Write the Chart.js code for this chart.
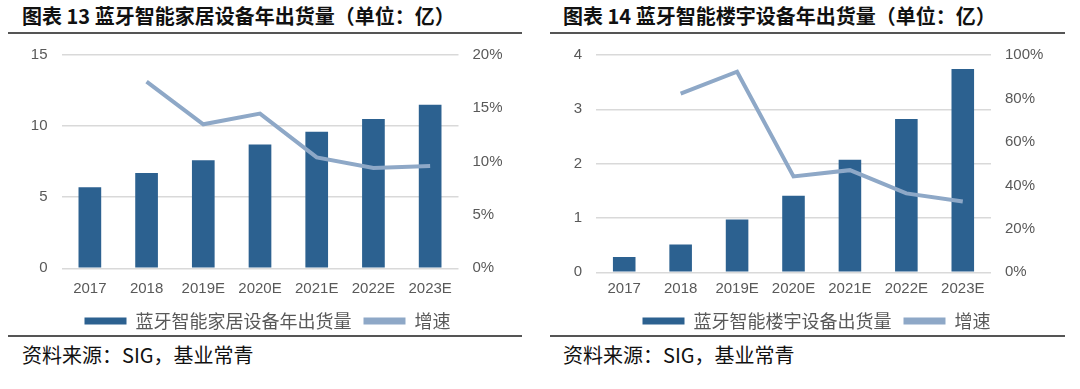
<!DOCTYPE html>
<html><head><meta charset="utf-8">
<script src="https://cdn.jsdelivr.net/npm/chart.js@4.4.0/dist/chart.umd.min.js"></script>
<style>
body{margin:0;width:1080px;height:389px;background:#fff;position:relative;overflow:hidden;font-family:"Noto Sans CJK SC",sans-serif}
.t{position:absolute;font-weight:bold;font-size:20px;line-height:20px;color:#111;white-space:nowrap}
.s{position:absolute;font-size:20px;line-height:20px;color:#111;white-space:nowrap}
.hr{position:absolute;background:#555}
.cw{position:absolute}
</style></head><body>
<div class="t" style="left:22px;top:6px">图表 13 蓝牙智能家居设备年出货量（单位：亿）</div>
<div class="hr" style="left:8px;width:514px;top:32px;height:2px"></div>
<div class="hr" style="left:8px;width:514px;top:335px;height:1.5px"></div>
<div class="s" style="left:22px;top:345px">资料来源：SIG，基业常青</div>
<div class="cw" style="left:0;top:32px;width:535px;height:308px"><canvas id="c1" width="535" height="308"></canvas></div>

<div class="t" style="left:563px;top:6px">图表 14 蓝牙智能楼宇设备年出货量（单位：亿）</div>
<div class="hr" style="left:550px;width:515px;top:32px;height:2px"></div>
<div class="hr" style="left:550px;width:515px;top:335px;height:1.5px"></div>
<div class="s" style="left:563px;top:345px">资料来源：SIG，基业常青</div>
<div class="cw" style="left:553px;top:32px;width:527px;height:308px"><canvas id="c2" width="527" height="308"></canvas></div>

<script>
const categories = ['2017','2018','2019E','2020E','2021E','2022E','2023E'];
const homeShipments = [5.7, 6.7, 7.6, 8.7, 9.6, 10.5, 11.5];
const homeGrowth = [null, 0.175, 0.135, 0.145, 0.104, 0.094, 0.096];
const buildingShipments = [0.28, 0.51, 0.97, 1.41, 2.07, 2.82, 3.74];
const buildingGrowth = [null, 0.822, 0.923, 0.441, 0.470, 0.363, 0.326];
const homeLabel = '蓝牙智能家居设备年出货量';
const buildingLabel = '蓝牙智能楼宇设备出货量';
const growthLabel = '增速';

const BAR = '#2C6190', LINE = '#8EA8C7', TICK = '#595959', GRID = '#D9D9D9';
const tickFont = {family: '"Liberation Sans", Arial, sans-serif', size: 15};

function make(id, barLabel, bars, growth, yMax, yStep, y1Max, y1Step, leftW, rightW, xH, xPad, padTop) {
  new Chart(document.getElementById(id), {
    data: {
      labels: categories,
      datasets: [
        {type: 'bar', label: barLabel, data: bars, backgroundColor: BAR, borderWidth: 0,
         barPercentage: 0.4, categoryPercentage: 1, yAxisID: 'y', order: 2},
        {type: 'line', label: growthLabel, data: growth, borderColor: LINE, backgroundColor: LINE,
         borderWidth: 4, pointRadius: 0, tension: 0, yAxisID: 'y1', order: 1}
      ]
    },
    options: {
      responsive: false, animation: false,
      layout: {padding: {top: padTop, left: 0, right: 0, bottom: 0}},
      plugins: {
        tooltip: {enabled: false},
        legend: {
          position: 'bottom',
          labels: {
            boxWidth: 42, boxHeight: 7, padding: 12, color: TICK,
            font: {family: '"Noto Sans CJK SC", sans-serif', size: 18},
            generateLabels: (chart) => chart.data.datasets.map((d, i) => ({
              text: d.label, fillStyle: d.type === 'bar' ? BAR : LINE, strokeStyle: 'rgba(0,0,0,0)',
              lineWidth: 0, datasetIndex: i, hidden: false, fontColor: TICK
            }))
          }
        }
      },
      scales: {
        x: {
          grid: {display: false, drawTicks: false}, border: {display: false},
          ticks: {color: TICK, font: tickFont, padding: xPad, maxRotation: 0},
          afterFit: s => { s.height = xH; }
        },
        y: {
          position: 'left', min: 0, max: yMax,
          ticks: {stepSize: yStep, color: TICK, font: tickFont, padding: 14},
          grid: {color: GRID, lineWidth: 1.5, drawTicks: false}, border: {display: false},
          afterFit: s => { s.width = leftW; }
        },
        y1: {
          position: 'right', min: 0, max: y1Max,
          ticks: {stepSize: y1Step, color: TICK, font: tickFont, padding: 14,
                  callback: v => Math.round(v * 100) + '%'},
          grid: {display: false, drawTicks: false}, border: {display: false},
          afterFit: s => { s.width = rightW; }
        }
      }
    }
  });
}

make('c1', homeLabel, homeShipments, homeGrowth, 15, 5, 0.2, 0.05, 61.5, 76.5, 31.7, 12, 6);
make('c2', buildingLabel, buildingShipments, buildingGrowth, 4, 1, 1, 0.2, 43, 89, 27.7, 8, 6);
</script>
</body></html>
